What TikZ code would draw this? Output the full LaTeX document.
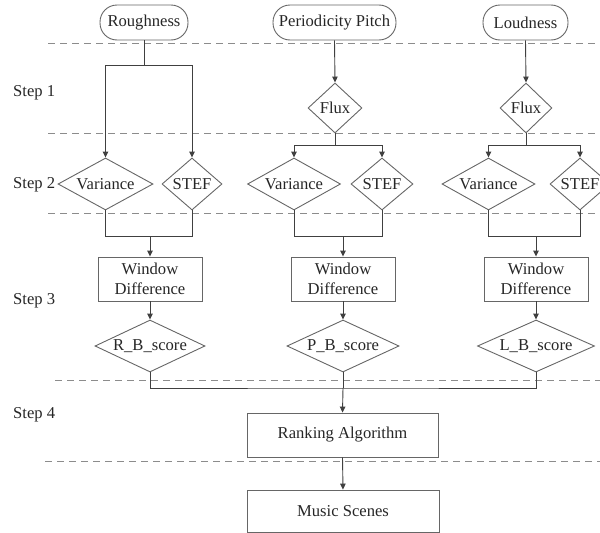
\documentclass[tikz,border=0pt]{standalone}
\usepackage{fontspec}
\setmainfont{Liberation Serif}
\usetikzlibrary{shapes.geometric,arrows.meta}
\begin{document}
\begin{tikzpicture}[x=1pt,y=-1pt,
  every node/.style={font=\fontsize{16.6}{20}\selectfont, text=black!85},
  term/.style={draw=black!60, line width=0.9pt, rounded corners=17pt, minimum height=35pt, inner sep=0pt},
  dia/.style={draw=black!60, line width=0.9pt, diamond, inner sep=0pt, minimum height=52pt},
  boxnode/.style={draw=black!60, line width=0.9pt, rectangle, inner sep=0pt, align=center, minimum height=44pt},
  con/.style={draw=black!75, line width=0.9pt},
  arr/.style={con, -{Triangle[width=5.5pt,length=6pt]}},
  sep/.style={draw=black!45, line width=0.9pt, dash pattern=on 7pt off 5pt},
  lbl/.style={anchor=west, inner sep=0pt}]
\useasboundingbox (0,0) rectangle (600,533);
\clip (0,0) rectangle (600,533);
% separators
\draw[sep] (48,43) -- (600,43);
\draw[sep] (48,133) -- (600,133);
\draw[sep] (48,213) -- (600,213);
\draw[sep] (55,380) -- (600,380);
\draw[sep] (45,461) -- (600,461);
% step labels
\node[lbl] (s1) at (13,93) {Step 1};
\node[lbl] (s2) at (13,185) {Step 2};
\node[lbl] (s3) at (13,301) {Step 3};
\node[lbl] (s4) at (13,415) {Step 4};
% top terminals
\node[term, minimum width=88pt] (rough) at (144,22.5) {Roughness};
\node[term, minimum width=123pt] (pp) at (334.5,22.5) {Periodicity Pitch};
\node[term, minimum width=85pt] (loud) at (525.5,22.5) {Loudness};
% flux
\node[dia, aspect=1.08, minimum width=54pt, minimum height=50pt] (pFlux) at (335,108) {Flux};
\node[dia, aspect=1.04, minimum width=52pt, minimum height=50pt] (lFlux) at (526,108) {Flux};
% variance / stef
\node[dia, aspect=1.83, minimum width=95pt] (rVar) at (105.5,184) {Variance};
\node[dia, aspect=1.15, minimum width=60pt] (rStef) at (192,184) {STEF};
\node[dia, aspect=1.79, minimum width=93pt] (pVar) at (294,184) {Variance};
\node[dia, aspect=1.19, minimum width=62pt] (pStef) at (382,184) {STEF};
\node[dia, aspect=1.79, minimum width=93pt] (lVar) at (488.5,184) {Variance};
\node[dia, aspect=1.15, minimum width=60pt] (lStef) at (580,184) {STEF};
% window difference
\node[boxnode, minimum width=104pt] (rWin) at (150,279) {Window\\Difference};
\node[boxnode, minimum width=104pt] (pWin) at (343,279) {Window\\Difference};
\node[boxnode, minimum width=104pt] (lWin) at (536,279) {Window\\Difference};
% scores
\node[dia, aspect=2.12, minimum width=110pt] (rScore) at (150,346) {R\_B\_score};
\node[dia, aspect=2.15, minimum width=112pt] (pScore) at (343,346) {P\_B\_score};
\node[dia, aspect=2.25, minimum width=117pt] (lScore) at (536,346) {L\_B\_score};
% bottom
\node[boxnode, minimum width=191pt] (rank) at (342.5,435) {Ranking Algorithm};
\node[boxnode, minimum width=192pt, minimum height=42pt] (music) at (343,511) {Music Scenes};
% connectors step 1
\draw[arr] (rough.south) -- ++(0,25) -| (rVar.north);
\draw[arr] (rough.south) -- ++(0,25) -| (rStef.north);
\draw[arr] (pp.south) -- (pFlux.north);
\draw[arr] (loud.south) -- (lFlux.north);
\draw[arr] (pFlux.south) -- ++(0,12) -| (pVar.north);
\draw[arr] (pFlux.south) -- ++(0,12) -| (pStef.north);
\draw[arr] (lFlux.south) -- ++(0,12) -| (lVar.north);
\draw[arr] (lFlux.south) -- ++(0,12) -| (lStef.north);
% joins to window difference
\path (rWin.north) ++(0,-20) coordinate (rj);
\path (pWin.north) ++(0,-20) coordinate (pj);
\path (lWin.north) ++(0,-20) coordinate (lj);
\draw[con] (rVar.south) |- (rj) -| (rStef.south);
\draw[con] (pVar.south) |- (pj) -| (pStef.south);
\draw[con] (lVar.south) |- (lj) -| (lStef.south);
\draw[arr] (rj) -- (rWin.north);
\draw[arr] (pj) -- (pWin.north);
\draw[arr] (lj) -- (lWin.north);
% window to score
\draw[arr] (rWin.south) -- (rScore.north);
\draw[arr] (pWin.south) -- (pScore.north);
\draw[arr] (lWin.south) -- (lScore.north);
% scores to ranking
\coordinate (mj) at (343,388);
\draw[con] (rScore.south) |- (mj) -| (lScore.south);
\draw[con] (pScore.south) -- (mj);
\draw[arr] (mj) -- (rank.north);
\draw[arr] (rank.south) -- (music.north);
\end{tikzpicture}
\end{document}
